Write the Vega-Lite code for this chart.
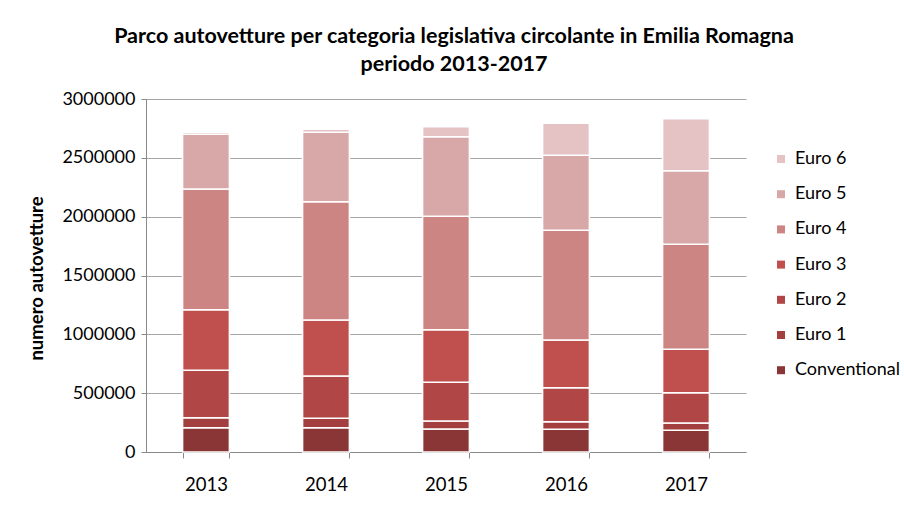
{
  "$schema": "https://vega.github.io/schema/vega-lite/v6.json",
  "autosize": "none",
  "width": 600,
  "height": 353,
  "padding": {"left": 146, "top": 99, "right": 158, "bottom": 59},
  "background": "white",
  "title": {
    "text": ["Parco autovetture per categoria legislativa circolante in Emilia Romagna", "periodo 2013-2017"],
    "font": "Lato",
    "fontSize": 21.5,
    "fontWeight": "bold",
    "color": "#000000",
    "anchor": "middle",
    "frame": "group",
    "lineHeight": 28,
    "dx": 8,
    "offset": 15
  },
  "data": {
    "values": [
      {"anno": "2013", "categoria": "Conventional", "n": 207000},
      {"anno": "2013", "categoria": "Euro 1", "n": 85000},
      {"anno": "2013", "categoria": "Euro 2", "n": 402000},
      {"anno": "2013", "categoria": "Euro 3", "n": 515000},
      {"anno": "2013", "categoria": "Euro 4", "n": 1026000},
      {"anno": "2013", "categoria": "Euro 5", "n": 465000},
      {"anno": "2013", "categoria": "Euro 6", "n": 17000},
      {"anno": "2014", "categoria": "Conventional", "n": 207000},
      {"anno": "2014", "categoria": "Euro 1", "n": 79000},
      {"anno": "2014", "categoria": "Euro 2", "n": 360000},
      {"anno": "2014", "categoria": "Euro 3", "n": 476000},
      {"anno": "2014", "categoria": "Euro 4", "n": 1005000},
      {"anno": "2014", "categoria": "Euro 5", "n": 590000},
      {"anno": "2014", "categoria": "Euro 6", "n": 25000},
      {"anno": "2015", "categoria": "Conventional", "n": 195000},
      {"anno": "2015", "categoria": "Euro 1", "n": 68000},
      {"anno": "2015", "categoria": "Euro 2", "n": 329000},
      {"anno": "2015", "categoria": "Euro 3", "n": 447000},
      {"anno": "2015", "categoria": "Euro 4", "n": 964000},
      {"anno": "2015", "categoria": "Euro 5", "n": 677000},
      {"anno": "2015", "categoria": "Euro 6", "n": 85000},
      {"anno": "2016", "categoria": "Conventional", "n": 193000},
      {"anno": "2016", "categoria": "Euro 1", "n": 64000},
      {"anno": "2016", "categoria": "Euro 2", "n": 289000},
      {"anno": "2016", "categoria": "Euro 3", "n": 406000},
      {"anno": "2016", "categoria": "Euro 4", "n": 932000},
      {"anno": "2016", "categoria": "Euro 5", "n": 637000},
      {"anno": "2016", "categoria": "Euro 6", "n": 272000},
      {"anno": "2017", "categoria": "Conventional", "n": 184000},
      {"anno": "2017", "categoria": "Euro 1", "n": 62000},
      {"anno": "2017", "categoria": "Euro 2", "n": 258000},
      {"anno": "2017", "categoria": "Euro 3", "n": 369000},
      {"anno": "2017", "categoria": "Euro 4", "n": 892000},
      {"anno": "2017", "categoria": "Euro 5", "n": 626000},
      {"anno": "2017", "categoria": "Euro 6", "n": 442000}
    ]
  },
  "mark": {"type": "bar", "stroke": "white", "strokeWidth": 1.5},
  "encoding": {
    "x": {
      "field": "anno",
      "type": "nominal",
      "scale": {"paddingInner": 0.61, "paddingOuter": 0.305},
      "axis": {
        "title": null,
        "labelAngle": 0,
        "labelFont": "Lato",
        "labelFontSize": 18.5,
        "labelColor": "#000000",
        "labelPadding": 17,
        "tickBand": "extent",
        "tickSize": 6,
        "tickColor": "#888888",
        "domainColor": "#888888",
        "grid": false
      }
    },
    "y": {
      "field": "n",
      "type": "quantitative",
      "stack": "zero",
      "scale": {"domain": [0, 3000000], "nice": false},
      "axis": {
        "title": "numero autovetture",
        "titleFont": "Lato",
        "titleFontSize": 18.5,
        "titleFontWeight": "bold",
        "titleColor": "#000000",
        "titleX": -110,
        "titleY": 179,
        "titleBaseline": "middle",
        "titleAngle": -90,
        "values": [0, 500000, 1000000, 1500000, 2000000, 2500000, 3000000],
        "format": "d",
        "labelFont": "Lato",
        "labelFontSize": 18,
        "labelColor": "#000000",
        "labelPadding": 6,
        "tickSize": 5,
        "tickColor": "#888888",
        "domainColor": "#888888",
        "gridColor": "#a6a6a6",
        "gridWidth": 1
      }
    },
    "color": {
      "field": "categoria",
      "type": "nominal",
      "scale": {
        "domain": ["Euro 6", "Euro 5", "Euro 4", "Euro 3", "Euro 2", "Euro 1", "Conventional"],
        "range": ["#E5C3C5", "#D8A7A7", "#CD8584", "#C0504D", "#B14646", "#A43F3F", "#8B3636"]
      },
      "legend": {
        "title": null,
        "orient": "none",
        "legendX": 626,
        "legendY": 51,
        "symbolType": "square",
        "symbolSize": 64,
        "symbolStrokeWidth": 0,
        "labelFont": "Lato",
        "labelFontSize": 18,
        "labelColor": "#000000",
        "labelOffset": 5,
        "rowPadding": 17.2
      }
    },
    "order": {"field": "categoria", "sort": "ascending"}
  },
  "config": {
    "view": {"stroke": null},
    "axis": {"domainWidth": 1}
  }
}
